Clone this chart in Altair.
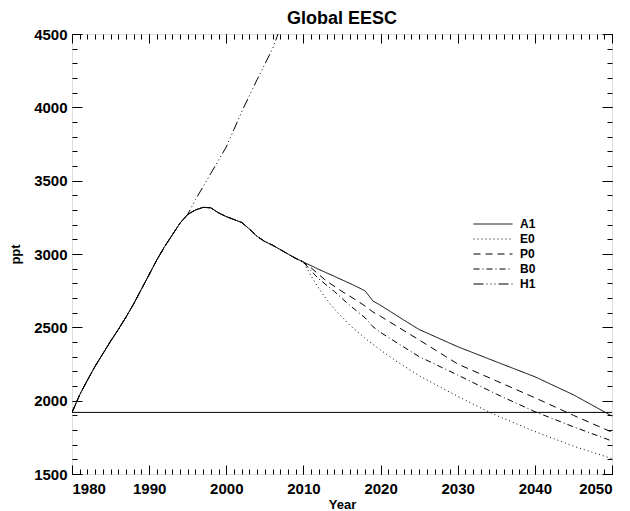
import altair as alt
import pandas as pd

# ---------------- data ----------------
hist_years = [1980, 1981, 1982, 1983, 1984, 1985, 1986, 1987, 1988, 1989, 1990,
              1991, 1992, 1993, 1994, 1995, 1996, 1997, 1998, 1999, 2000,
              2001, 2002, 2003, 2004, 2005, 2006, 2007, 2008, 2009, 2010]
hist_ppt = [1920, 2040, 2140, 2235, 2320, 2405, 2485, 2570, 2660, 2760, 2860,
            2960, 3050, 3130, 3210, 3270, 3300, 3318, 3315, 3280, 3255,
            3235, 3215, 3170, 3120, 3085, 3060, 3030, 3000, 2970, 2945]

a1_years = [2012, 2014, 2016, 2017, 2018, 2019, 2020, 2023, 2025, 2030, 2035, 2040, 2045, 2050]
a1_ppt = [2895, 2848, 2800, 2775, 2748, 2680, 2650, 2550, 2485, 2368, 2265, 2163, 2040, 1895]

e0_years = [2011, 2012, 2013, 2014, 2016, 2018, 2020, 2022, 2025, 2028, 2030, 2033, 2035, 2040, 2045, 2050]
e0_ppt = [2850, 2765, 2690, 2625, 2515, 2425, 2345, 2270, 2170, 2085, 2030, 1950, 1900, 1790, 1690, 1605]

p0_years = [2011, 2012, 2013, 2015, 2017, 2018, 2019, 2020, 2025, 2030, 2035, 2040, 2045, 2050]
p0_ppt = [2905, 2860, 2815, 2745, 2680, 2645, 2605, 2575, 2414, 2250, 2135, 2020, 1900, 1785]

b0_years = [2011, 2012, 2014, 2016, 2018, 2019, 2020, 2025, 2030, 2035, 2040, 2045, 2050]
b0_ppt = [2885, 2830, 2745, 2650, 2565, 2505, 2465, 2300, 2175, 2045, 1925, 1822, 1725]

h1_years = [1996, 1997, 1998, 1999, 2000, 2001, 2002, 2003, 2004, 2005, 2006, 2007, 2008]
h1_ppt = [3370, 3460, 3550, 3640, 3730, 3850, 3970, 4080, 4190, 4295, 4400, 4540, 4680]

reference_level = [1920]

series_names = ["A1", "E0", "P0", "B0", "H1"]
series_dash = [[1, 0], [1, 3], [7, 5], [6, 3, 1, 3], [10, 3, 1, 3, 1, 3, 1, 3]]

x_labels = [1980, 1990, 2000, 2010, 2020, 2030, 2040, 2050]
y_labels = [1500, 2000, 2500, 3000, 3500, 4000, 4500]
x_minor = list(range(1980, 2051))
y_minor = list(range(1500, 4501, 100))

title_text = ["Global EESC"]

# ---------------- build table ----------------
rows = []
proj = {"A1": (a1_years, a1_ppt), "E0": (e0_years, e0_ppt),
        "P0": (p0_years, p0_ppt), "B0": (b0_years, b0_ppt)}
for name in ["A1", "E0", "P0", "B0"]:
    ys, vs = proj[name]
    for y, v in zip(hist_years + ys, hist_ppt + vs):
        rows.append({"series": name, "year": y, "ppt": v})
h1_hist = [(y, v) for y, v in zip(hist_years, hist_ppt) if y <= 1995]
for y, v in h1_hist + list(zip(h1_years, h1_ppt)):
    rows.append({"series": "H1", "year": y, "ppt": v})
df = pd.DataFrame(rows)
ref_df = pd.DataFrame({"ppt": reference_level})
title_df = pd.DataFrame({"t": title_text})

W, H = 540, 440
FONT = "Liberation Sans"
xscale = alt.Scale(domain=[1980, 2050], nice=False, zero=False)
yscale = alt.Scale(domain=[1500, 4500], nice=False, zero=False)


def tick_axis(orient, values, size, offset):
    return alt.Axis(orient=orient, values=values, tickSize=size, offset=offset,
                    labels=False, domain=False, ticks=True, grid=False,
                    tickColor="black", tickWidth=1, title=None)


lines = alt.Chart(df).mark_line(color="black", strokeWidth=1, clip=True).encode(
    x=alt.X("year:Q", scale=xscale,
            axis=alt.Axis(orient="bottom", values=x_labels, ticks=False, tickSize=0,
                          domain=False, grid=False, labelPadding=7, format="d",
                          labelFont=FONT, labelFontSize=15, labelFontWeight="bold",
                          labelColor="black", title="Year", titleFont=FONT,
                          titleFontSize=13, titleFontWeight="bold", titleColor="black",
                          titlePadding=2)),
    y=alt.Y("ppt:Q", scale=yscale,
            axis=alt.Axis(orient="left", values=y_labels, ticks=False, tickSize=0,
                          domain=False, grid=False, labelPadding=5, format="d",
                          labelFont=FONT, labelFontSize=15, labelFontWeight="bold",
                          labelColor="black", title="ppt", titleFont=FONT,
                          titleFontSize=13, titleFontWeight="bold", titleColor="black",
                          titlePadding=11)),
    strokeDash=alt.StrokeDash("series:N",
                              scale=alt.Scale(domain=series_names, range=series_dash),
                              sort=series_names,
                              legend=alt.Legend(orient="none", legendX=401, legendY=183,
                                                title=None, padding=0, rowPadding=2,
                                                symbolType="M-1,0H5", symbolSize=169,
                                                symbolStrokeWidth=1,
                                                symbolStrokeColor="black",
                                                labelFont=FONT, labelFontSize=12,
                                                labelFontWeight="bold",
                                                labelColor="black", labelOffset=33)),
    detail="series:N",
)

ref = alt.Chart(ref_df).mark_rule(color="black", strokeWidth=1).encode(
    y=alt.Y("ppt:Q", scale=yscale, axis=None)
)

title_mark = alt.Chart(title_df).mark_text(
    font=FONT, fontSize=18, fontWeight="bold", color="black",
    align="center", baseline="top"
).encode(text="t:N", x=alt.value(W / 2), y=alt.value(-24))


def ghost(xaxis, yaxis):
    return alt.Chart(df).mark_point(opacity=0).encode(
        x=alt.X("year:Q", scale=xscale, axis=xaxis),
        y=alt.Y("ppt:Q", scale=yscale, axis=yaxis),
    )


g1 = ghost(tick_axis("top", x_labels, 9, -H), tick_axis("right", y_labels, 10, -W))
g2 = ghost(tick_axis("top", x_minor, 5, -H), tick_axis("right", y_minor, 5, -W))
g3 = ghost(tick_axis("bottom", x_labels, 9, -H), tick_axis("left", y_labels, 10, -W))
g4 = ghost(tick_axis("bottom", x_minor, 5, -H), tick_axis("left", y_minor, 5, -W))

chart = alt.layer(lines, ref, g1, g2, g3, g4, title_mark).resolve_axis(
    x="independent", y="independent"
).properties(
    width=W, height=H,
    autosize=alt.AutoSizeParams(type="none"),
    padding={"left": 64, "top": 26, "right": 10, "bottom": 37},
).configure_view(stroke="black", strokeWidth=1).configure(background="white")

chart.save("out.html", embed_options={"renderer": "svg", "actions": False})
